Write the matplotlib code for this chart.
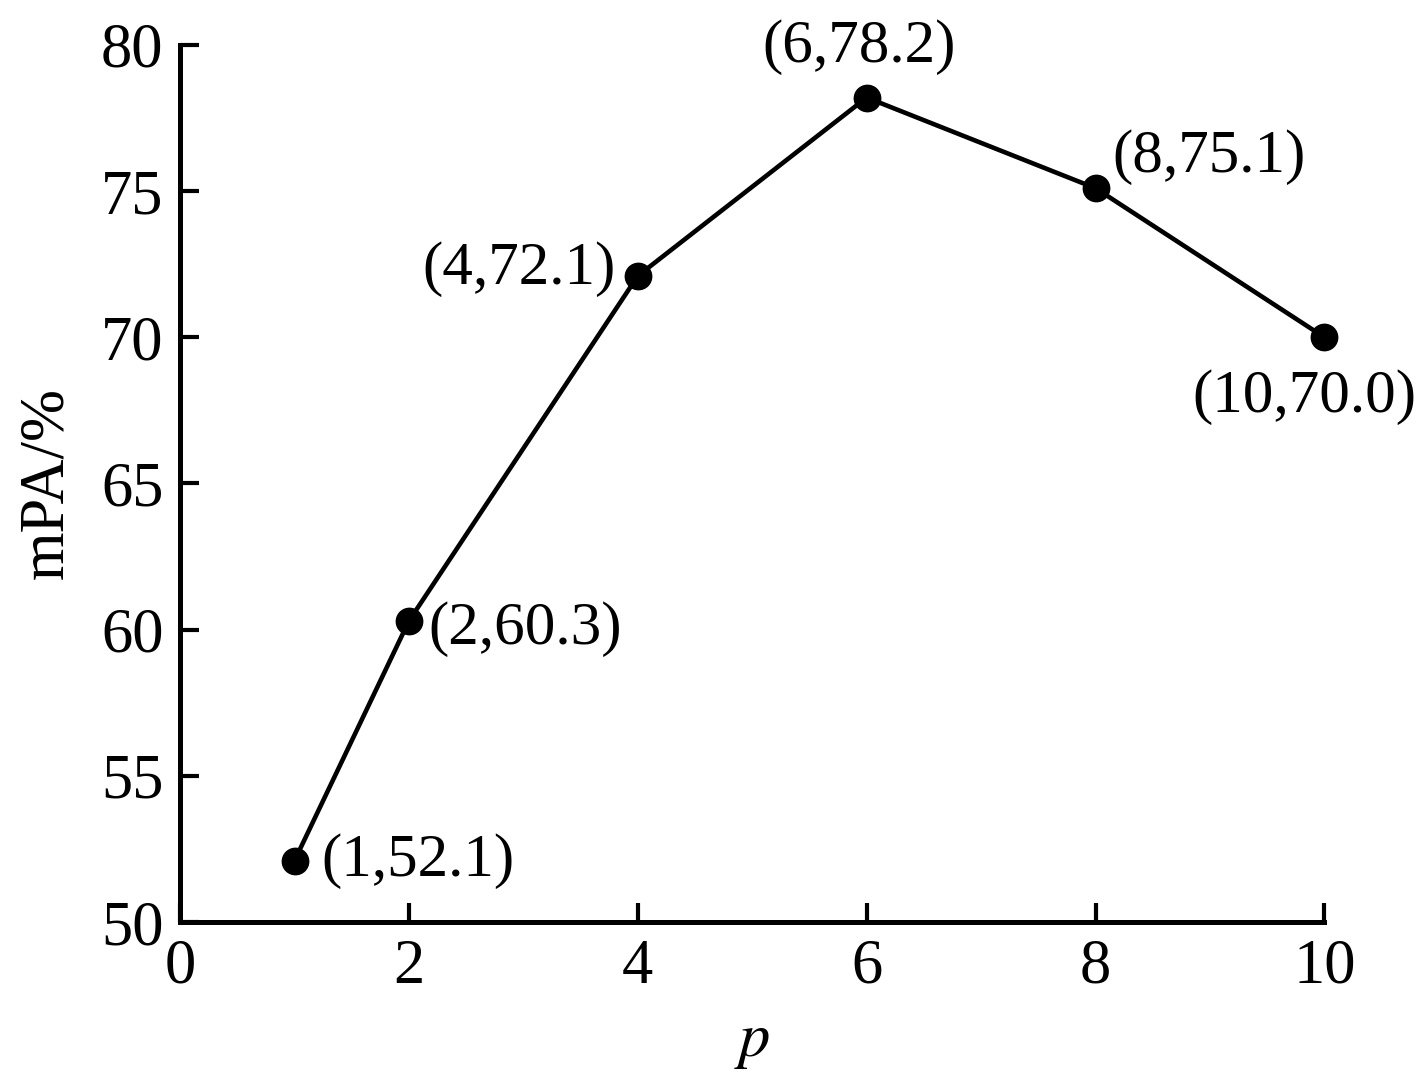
import matplotlib.pyplot as plt

# data
p_vals = [1, 2, 4, 6, 8, 10]
mpa_vals = [52.1, 60.3, 72.1, 78.2, 75.1, 70.0]
point_labels = ['(1,52.1)', '(2,60.3)', '(4,72.1)', '(6,78.2)', '(8,75.1)', '(10,70.0)']

# label offsets in pixels (dx, dy) and alignment
offsets = [(27, 0, 'left', 'center'),
           (19, -8, 'left', 'center'),
           (-22, 7, 'right', 'center'),
           (-8, 50, 'center', 'center'),
           (17, 31, 'left', 'center'),
           (-20, -60, 'center', 'center')]

plt.rcParams['font.family'] = ['Liberation Serif', 'DejaVu Serif']
plt.rcParams['mathtext.fontset'] = 'stix'

fig = plt.figure(figsize=(14.18, 10.78), dpi=100)
ax = fig.add_axes([0.127, 0.1447, 0.807, 0.8136])

ax.plot(p_vals, mpa_vals, color='black', linewidth=3.3, marker='o',
        markersize=19, markerfacecolor='black', markeredgecolor='black', clip_on=False)

for x, y, lab, (dx, dy, ha, va) in zip(p_vals, mpa_vals, point_labels, offsets):
    ax.annotate(lab, (x, y), xytext=(dx * 0.72, dy * 0.72), textcoords='offset points',
                ha=ha, va=va, fontsize=44)

ax.set_xlim(0, 10)
ax.set_ylim(50, 80)
ax.set_xticks([0, 2, 4, 6, 8, 10])
ax.set_yticks([50, 55, 60, 65, 70, 75, 80])

ax.spines['top'].set_visible(False)
ax.spines['right'].set_visible(False)
ax.spines['left'].set_linewidth(3.6)
ax.spines['bottom'].set_linewidth(3.6)
ax.tick_params(direction='in', length=14, width=3, labelsize=45, pad=12)

ax.set_xlabel('$p$', fontsize=45, labelpad=12)
ax.set_ylabel('mPA/%', fontsize=45, labelpad=18)

fig.savefig('out.png', dpi=100)
